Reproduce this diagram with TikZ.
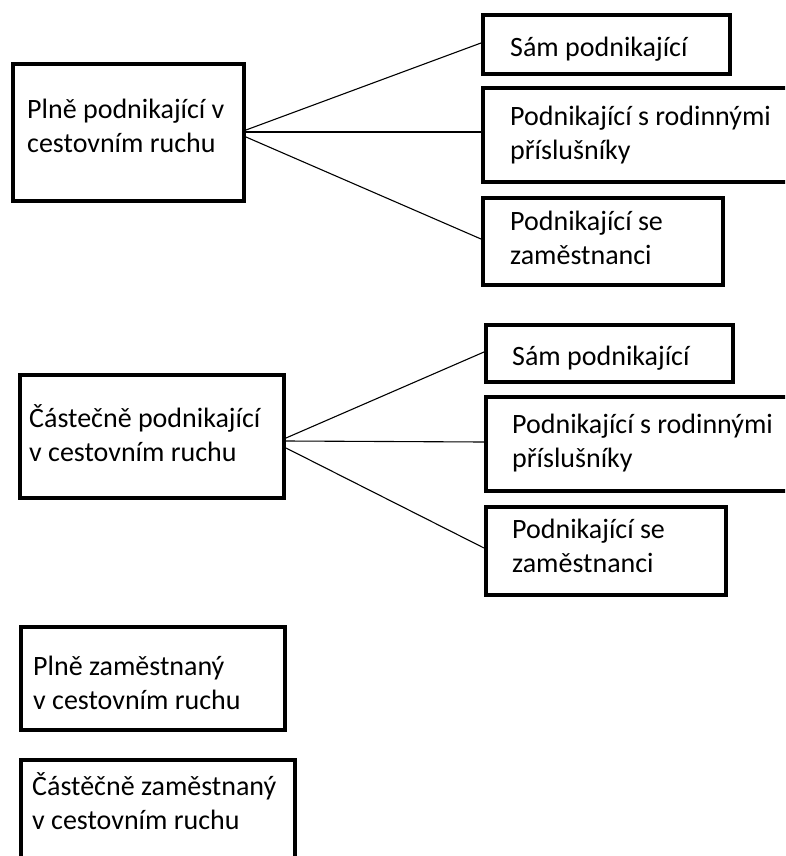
\documentclass[tikz,border=0pt]{standalone}
\usepackage{fontspec}
\setmainfont{Carlito}
\usetikzlibrary{fit}
\begin{document}
\begin{tikzpicture}[x=1pt,y=-1pt,
  box/.style={draw=black, line width=4pt, inner sep=0pt, rectangle},
  txt/.style={anchor=base west, inner sep=0pt, text=black,
    font=\fontsize{28}{34.5}\selectfont},
  conn/.style={draw=black, line width=1.1pt}]
\fill[white] (0,0) rectangle (785,856);
\clip (0,0) rectangle (785,856);
% group 1
\node[box, fit={(12.5,64)(244,201)}] (a1) {};
\node[box, fit={(483,15)(730,74)}] (b1) {};
\node[box, fit={(483,88)(830,182)}] (b2) {};
\node[box, fit={(483,198)(722.5,285)}] (b3) {};
\node[txt] (ta1) at (27,118) {\begin{tabular}[t]{@{}l@{}}Plně podnikající v\\cestovním ruchu\end{tabular}};
\node[txt] (tb1) at (510,57) {Sám podnikající};
\node[txt] (tb2) at (510,125) {\begin{tabular}[t]{@{}l@{}}Podnikající s rodinnými\\příslušníky\end{tabular}};
\node[txt] (tb3) at (510,230) {\begin{tabular}[t]{@{}l@{}}Podnikající se\\zaměstnanci\end{tabular}};
\draw[conn] ([yshift=2.5pt]a1.east) -- ([yshift=1.5pt]b1.west);
\draw[conn] ([yshift=0.5pt]a1.east) -- ([yshift=3pt]b2.west);
\draw[conn] ([yshift=-4.5pt]a1.east) -- ([yshift=2.5pt]b3.west);
% group 2
\node[box, fit={(19.5,375)(284,498)}] (a2) {};
\node[box, fit={(486,325)(732.5,382)}] (c1) {};
\node[box, fit={(486,397)(830,491)}] (c2) {};
\node[box, fit={(486,507)(726,595)}] (c3) {};
\node[txt] (ta2) at (29,427) {\begin{tabular}[t]{@{}l@{}}Částečně podnikající\\v cestovním ruchu\end{tabular}};
\node[txt] (tc1) at (512,365) {Sám podnikající};
\node[txt] (tc2) at (512,433) {\begin{tabular}[t]{@{}l@{}}Podnikající s rodinnými\\příslušníky\end{tabular}};
\node[txt] (tc3) at (512,538) {\begin{tabular}[t]{@{}l@{}}Podnikající se\\zaměstnanci\end{tabular}};
\draw[conn] ([yshift=-1.5pt]a2.east) -- ([yshift=1.5pt]c1.west);
\draw[conn] ([yshift=-4.5pt]a2.east) -- ([yshift=2pt]c2.west);
\draw[conn] ([yshift=-11.5pt]a2.east) -- ([yshift=3pt]c3.west);
% group 3
\node[box, fit={(21,627)(284.5,730)}] (d1) {};
\node[box, fit={(21,760)(295,900)}] (d2) {};
\node[txt] (td1) at (33,675) {\begin{tabular}[t]{@{}l@{}}Plně zaměstnaný\\v cestovním ruchu\end{tabular}};
\node[txt] (td2) at (32,795) {\begin{tabular}[t]{@{}l@{}}Částěčně zaměstnaný\\v cestovním ruchu\end{tabular}};
\end{tikzpicture}
\end{document}
